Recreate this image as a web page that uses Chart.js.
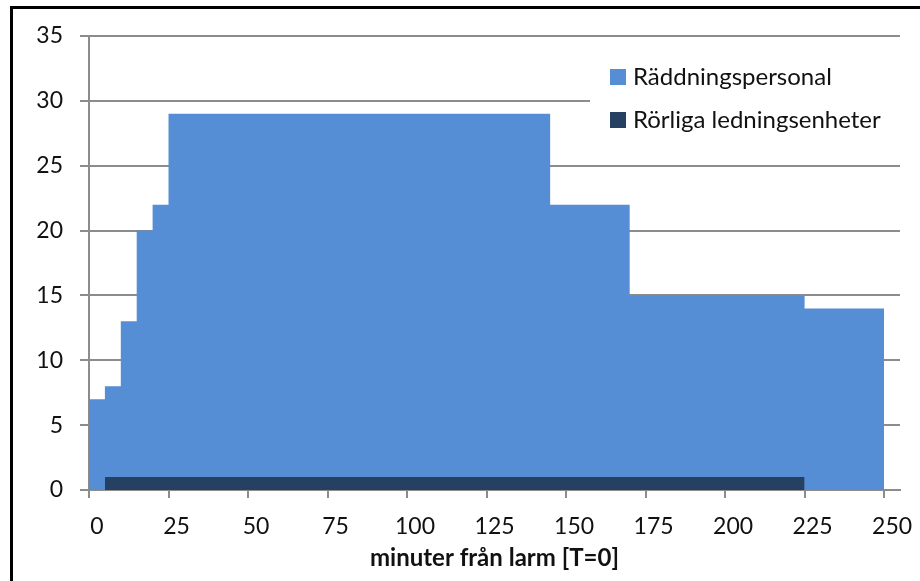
<!DOCTYPE html>
<html lang="sv">
<head>
<meta charset="UTF-8">
<title>Räddningspersonal</title>
<script src="https://cdn.jsdelivr.net/npm/chart.js"></script>
<style>
  html, body { margin: 0; padding: 0; background: #fff; }
  .wrap { position: relative; width: 920px; height: 581px; }
</style>
</head>
<body>
<div class="wrap"><canvas id="chart" width="920" height="581"></canvas></div>
<script>
// data
const minutes   = [0, 5, 10, 15, 20, 25, 145, 170, 225, 250];
const personal  = [7, 8, 13, 20, 22, 29, 22, 15, 14, 14];
const ledMinutes = [5, 225];
const ledning    = [1, 1];

const seriesNames = ['Räddningspersonal', 'Rörliga ledningsenheter'];
const seriesColors = ['#558ED5', '#264062'];

const xTicks = [0, 25, 50, 75, 100, 125, 150, 175, 200, 225, 250];
const yTicks = [0, 5, 10, 15, 20, 25, 30, 35];

const FONT = 'Lato, "Open Sans", sans-serif';

// legend box inside the plot + outer black frame
const extras = {
  id: 'extras',
  afterDatasetsDraw(chart) {
    const ctx = chart.ctx;
    ctx.save();
    ctx.fillStyle = '#fff';
    ctx.fillRect(590, 50, 315, 98);
    ctx.font = '24px ' + FONT;
    ctx.textBaseline = 'middle';
    chart.data.datasets.forEach((ds, i) => {
      const y = 77 + i * 43;
      ctx.fillStyle = ds.backgroundColor;
      ctx.fillRect(610, y - 8, 16, 16);
      ctx.fillStyle = '#111';
      ctx.fillText(ds.label, 633, y);
    });
    ctx.restore();
  },
  afterDraw(chart) {
    const ctx = chart.ctx;
    ctx.save();
    ctx.strokeStyle = '#000';
    ctx.lineWidth = 3;
    ctx.beginPath();
    ctx.moveTo(11.5, 581);
    ctx.lineTo(11.5, 7.5);
    ctx.lineTo(920, 7.5);
    ctx.stroke();
    ctx.restore();
  }
};

new Chart(document.getElementById('chart'), {
  type: 'line',
  data: {
    datasets: [
      {
        label: seriesNames[0],
        data: minutes.map((m, i) => ({ x: m, y: personal[i] })),
        stepped: 'before',
        fill: 'origin',
        backgroundColor: seriesColors[0],
        borderColor: seriesColors[0],
        borderWidth: 0,
        pointRadius: 0,
        order: 1
      },
      {
        label: seriesNames[1],
        data: ledMinutes.map((m, i) => ({ x: m, y: ledning[i] })),
        stepped: 'before',
        fill: 'origin',
        backgroundColor: seriesColors[1],
        borderColor: seriesColors[1],
        borderWidth: 0,
        pointRadius: 0,
        order: 0
      }
    ]
  },
  options: {
    responsive: false,
    animation: false,
    devicePixelRatio: 1,
    layout: { padding: { left: 0, top: 36, right: 20, bottom: 0 } },
    plugins: {
      legend: { display: false },
      tooltip: { enabled: false }
    },
    scales: {
      x: {
        type: 'linear',
        min: 0,
        max: 255,
        afterFit: s => { s.height = 91; },
        afterBuildTicks: s => { s.ticks = xTicks.map(v => ({ value: v })); },
        grid: { drawOnChartArea: false, drawTicks: true, tickLength: 8, color: '#8c8c8c', lineWidth: 2 },
        border: { color: '#8c8c8c', width: 2 },
        ticks: {
          color: '#111',
          font: { family: FONT, size: 23 },
          padding: 15,
          labelOffset: 8,
          maxRotation: 0,
          autoSkip: false
        },
        title: {
          display: true,
          text: 'minuter från larm [T=0]',
          color: '#111',
          font: { family: FONT, size: 24, weight: 'bold' },
          padding: { top: 0, bottom: 8 }
        }
      },
      y: {
        min: 0,
        max: 35,
        afterFit: s => { s.width = 89; },
        afterBuildTicks: s => { s.ticks = yTicks.map(v => ({ value: v })); },
        grid: { color: '#8c8c8c', lineWidth: 2, tickLength: 9 },
        border: { color: '#8c8c8c', width: 2 },
        ticks: {
          color: '#111',
          font: { family: FONT, size: 23 },
          padding: 17
        }
      }
    }
  },
  plugins: [extras]
});
</script>
</body>
</html>
